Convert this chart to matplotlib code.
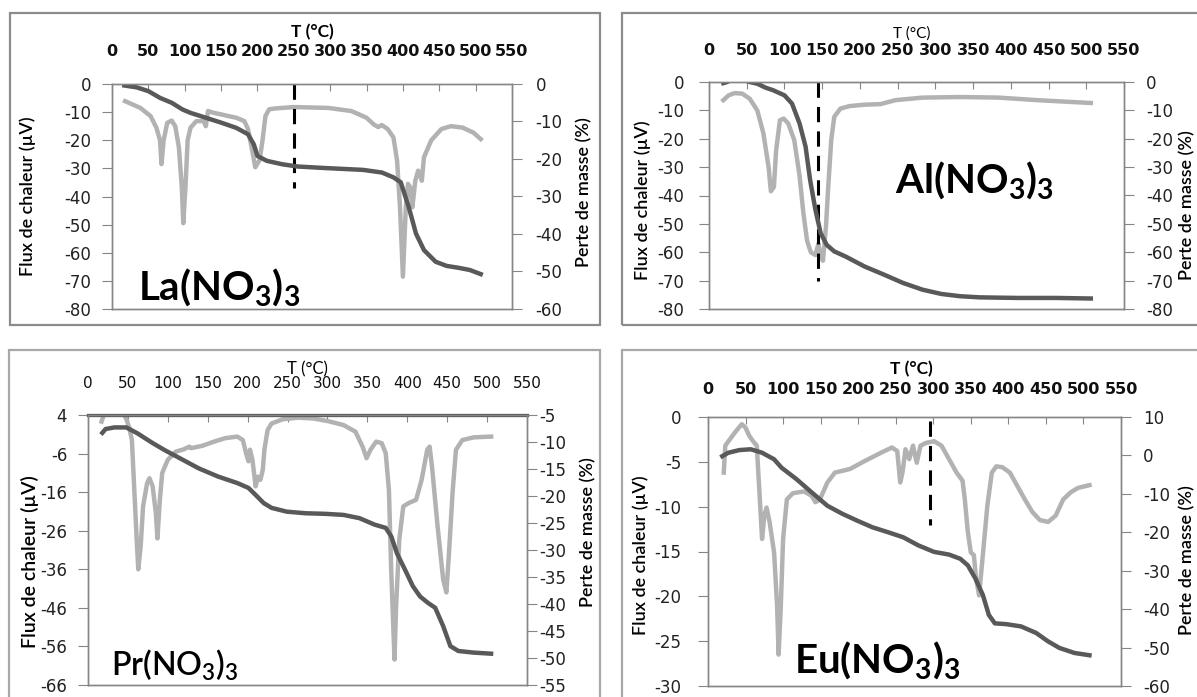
import matplotlib
matplotlib.use("Agg")
import matplotlib.pyplot as plt
import numpy as np
from matplotlib.patches import Rectangle


# ---- data (T in degC) ----
la_T_flux = [18, 39, 53, 61, 66, 68, 71, 76, 82, 87, 92, 96, 98, 101, 104, 108, 116, 126, 129, 132,
             139, 150, 160, 171, 182, 187, 192, 197, 203, 207, 211, 216, 224, 250, 297, 329, 350, 360,
             366, 371, 379, 387, 392, 396, 400, 404, 407, 410, 413, 417, 421, 426, 429, 439, 453, 466,
             482, 497, 507]
la_flux = [-6.1, -8.5, -11.4, -15.5, -20, -28.5, -20, -13.8, -13, -15, -22.6, -36.7, -49.5, -36.7, -20,
           -15.5, -13.2, -13.2, -15, -9.6, -10.2, -10.8, -11.4, -12, -13.2, -16, -22.6, -29.6, -27, -20,
           -11.4, -9, -8.7, -8.2, -8.5, -9.6, -12, -14.4, -15.3, -14.6, -16, -19, -27.3, -43.8, -68.5,
           -43.8, -35.5, -36.7, -43.8, -34.4, -30.8, -34.4, -26, -20, -16, -15, -15.5, -17.3, -19.6]
la_T_mass = [17, 34, 50, 66, 82, 97, 108, 129, 150, 171, 187, 195, 200, 213, 234, 255, 292, 345, 371,
             387, 397, 408, 418, 429, 445, 460, 476, 492, 507]
la_mass = [-0.4, -0.9, -1.9, -3.7, -5.0, -6.8, -7.7, -9.0, -10.3, -11.7, -13.4, -16.1, -19.2, -20.5,
           -21.4, -22.0, -22.4, -22.9, -23.6, -24.9, -26.2, -32.8, -39.9, -44.3, -47.4, -48.5, -49.0,
           -49.6, -50.7]
la_mark = [250, 0, -37]

al_T_flux = [19, 26, 34, 44, 54, 64, 72, 79, 82, 86, 89, 94, 99, 105, 113, 120, 125, 130, 135, 141,
             145, 147, 151, 155, 158, 162, 166, 174, 186, 206, 227, 247, 283, 333, 384, 435, 506]
al_flux = [-6.4, -4.7, -3.9, -4.1, -5.9, -10, -18, -30, -38.5, -37, -24, -13.5, -12.9, -14.6, -20.5,
           -33, -46, -56, -60, -61, -57, -60, -63, -51, -37, -20.5, -12.3, -9.4, -8.5, -8, -7.8, -6.4,
           -5.5, -5.3, -5.5, -6.4, -7.4]
al_T_mass = [19, 24, 30, 45, 54, 64, 75, 85, 100, 110, 120, 128, 134, 141, 148, 156, 166, 181, 206,
             232, 257, 283, 308, 333, 359, 409, 460, 506]
al_mass = [-0.4, 0, 0.8, 0.8, 0, -0.6, -2, -2.9, -4.7, -7.6, -14.6, -22.8, -34.5, -45, -53.3, -57.4,
           -59.7, -61.5, -65, -67.9, -70.8, -73.2, -74.7, -75.5, -75.9, -76.1, -76.1, -76.3]
al_mark = [145, 0, -70]

pr_T_flux = [17, 20, 24, 30, 38, 44, 48, 52, 55, 58, 61, 63, 66, 69, 74, 77, 81, 85, 87, 90, 93, 100,
             110, 120, 127, 129, 143, 158, 172, 187, 194, 198, 201, 203, 206, 208, 210, 213, 216, 219,
             221, 225, 230, 244, 263, 282, 301, 320, 335, 344, 349, 354, 361, 368, 373, 377, 380, 384,
             386, 390, 395, 402, 411, 418, 425, 428, 431, 438, 445, 449, 452, 457, 461, 469, 483, 505]
pr_flux = [2.3, 4.2, 5, 4.6, 5, 4.5, 3, 0.5, -2.5, -15.4, -28.3, -36, -30, -19.7, -13.7, -12.4, -14.5,
           -21.4, -28, -18, -11, -7.6, -5.5, -4.9, -4.2, -4.6, -4, -2.9, -2, -1.6, -2.5, -5.9, -8, -5,
           -7.6, -11, -14.5, -12, -12.8, -10.2, -5, 0.1, 1.8, 2.9, 3.3, 3.1, 2.4, 1.4, -0.3, -4.2, -7.2,
           -5, -2.9, -3.3, -5.9, -15.4, -37, -59.4, -45.6, -28.3, -19.7, -18.8, -18, -12.8, -5, -4.2,
           -9.4, -24.9, -38.7, -42, -32.6, -15.4, -5, -2.5, -1.8, -1.6]
pr_T_mass = [18, 22, 33, 48, 62, 81, 96, 115, 139, 163, 187, 201, 210, 220, 230, 249, 273, 297, 320,
             340, 359, 373, 380, 387, 397, 407, 416, 426, 435, 445, 454, 464, 483, 505]
pr_mass = [-8.3, -7.6, -7.3, -7.3, -8.4, -10.2, -11.5, -13, -14.9, -16.4, -17.6, -18.5, -19.8, -21.3,
           -22.2, -22.9, -23.2, -23.3, -23.5, -24.1, -25.3, -25.9, -27.5, -30.6, -33.6, -36.7, -38.6,
           -39.8, -40.7, -44.1, -47.8, -48.7, -49, -49.2]

eu_T_flux = [21, 23, 29, 37, 45, 50, 55, 60, 65, 67, 70, 72, 75, 78, 82, 88, 92, 94, 97, 100, 105,
             113, 128, 138, 143, 149, 159, 169, 189, 209, 230, 245, 252, 256, 259, 263, 268, 273, 278,
             283, 290, 301, 311, 321, 331, 339, 342, 346, 350, 354, 357, 361, 366, 372, 378, 384, 392,
             402, 412, 422, 432, 442, 453, 463, 473, 483, 493, 508]
eu_flux = [-6.2, -3.2, -2.5, -1.6, -0.8, -1.2, -2.1, -2.7, -3.2, -6.2, -10.6, -13.6, -11, -10.1, -11.7,
           -15.1, -21, -26.5, -21, -13.6, -9.2, -8.5, -8.3, -8.8, -9.5, -9.2, -7.3, -6.2, -5.8, -4.9, -4,
           -3.4, -3.8, -7.3, -6.2, -3.6, -4.7, -3.2, -5.1, -3.2, -2.9, -2.7, -3.2, -4.7, -6.2, -7.1,
           -9.2, -12.8, -15.1, -15.4, -18, -19.9, -15.4, -9.9, -6.2, -5.5, -5.6, -6.2, -7.7, -9.2,
           -10.6, -11.5, -11.7, -11, -9.2, -8.4, -7.9, -7.6]
eu_T_mass = [19, 27, 42, 57, 72, 88, 98, 118, 138, 159, 179, 199, 219, 240, 260, 280, 301, 321, 336,
             346, 356, 366, 374, 382, 397, 417, 437, 453, 468, 488, 508]
eu_mass = [-0.2, 0.7, 1.4, 1.6, 0.7, -1.0, -3.2, -6.2, -9.6, -13.1, -15.2, -17, -18.7, -20, -21.3,
           -23.4, -25.1, -25.8, -26.9, -28.6, -32, -36.3, -41.5, -43.7, -43.9, -44.5, -46.2, -48.4,
           -50.1, -51.4, -52]
eu_mark = [295, -0.5, -12]

t_ticks = list(range(0, 551, 50))
la_left_ticks = list(range(0, -81, -10))
la_right_ticks = list(range(0, -61, -10))
al_left_ticks = list(range(0, -81, -10))
al_right_ticks = list(range(0, -81, -10))
pr_left_ticks = list(range(4, -67, -10))
pr_right_ticks = list(range(-5, -56, -5))
eu_left_ticks = list(range(0, -31, -5))
eu_right_ticks = list(range(10, -61, -10))

W, H = 1197, 697
DARK = "#595959"
LIGHT = "#b2b2b2"
SPINE = "#868686"

plt.rcParams.update({
    "font.family": "DejaVu Sans",
    "axes.unicode_minus": False,
    "mathtext.fontset": "custom",
    "mathtext.rm": "Lato",
    "mathtext.bf": "Lato:bold",
    "mathtext.sf": "Lato:semibold",
})

fig = plt.figure(figsize=(W / 100, H / 100), dpi=100)


def rect(x0, y0, x1, y1):
    return [x0 / W, 1 - y1 / H, (x1 - x0) / W, (y1 - y0) / H]


def frame(x0, y0, x1, y1, color):
    fig.add_artist(Rectangle((x0 / W, 1 - y1 / H), (x1 - x0) / W, (y1 - y0) / H,
                             transform=fig.transFigure, fill=False, edgecolor=color, lw=1.6))


def ftext(x, y, s, **kw):
    fig.text(x / W, 1 - y / H, s, **kw)


def panel(box, T_flux, flux, T_mass, mass, lticks, rticks, pads, top_fs=11, top_bold=False,
          mark=None):
    ax = fig.add_axes(rect(*box))
    ax2 = ax.twinx()
    ax.plot(T_flux, flux, color=LIGHT, lw=3.2, solid_joinstyle="round")
    ax2.plot(T_mass, mass, color=DARK, lw=3.2, solid_joinstyle="round")
    if mark is not None:
        ax.plot([mark[0], mark[0]], mark[1:], color="black", lw=2.2, ls=(0, (5, 3)))
    ax.set_xlim(0, 550)
    ax.set_ylim(lticks[-1], lticks[0])
    ax2.set_ylim(rticks[-1], rticks[0])
    ax.set_xticks(t_ticks)
    ax.set_yticks(lticks)
    ax2.set_yticks(rticks)
    ax.xaxis.tick_top()
    ax.tick_params(axis="x", direction="in", length=5, color=SPINE, pad=pads[0],
                   labelsize=top_fs, labelcolor="#111111")
    if top_bold:
        for lab in ax.get_xticklabels():
            lab.set_fontweight("bold")
    ax.tick_params(axis="y", direction="out", length=7, color=SPINE, pad=pads[1],
                   labelsize=12, labelcolor="#222222")
    ax2.tick_params(axis="y", direction="out", length=7, color=SPINE, pad=pads[2],
                    labelsize=12, labelcolor="#222222")
    for a in (ax, ax2):
        for sp in a.spines.values():
            sp.set_color(SPINE)
            sp.set_linewidth(1.0)
    return ax, ax2


# frames round each chart
frame(10, 13, 600, 325, "#8c8c8c")
frame(622, 13, 1210, 325, "#8c8c8c")
frame(9, 350, 600, 710, "#a8a8a8")
frame(622, 350, 1210, 710, "#a8a8a8")

# La
panel((112, 84, 512, 309), la_T_flux, la_flux, la_T_mass, la_mass,
      la_left_ticks, la_right_ticks, pads=(18, 8, 10), top_fs=11.5, top_bold=True, mark=la_mark)
ftext(312, 32, "T (°C)", ha="center", va="center", fontsize=12.5, fontweight="bold", family="Lato")
ftext(28, 196, "Flux de chaleur (µV)", rotation=90, ha="center", va="center",
      fontsize=13, family="Lato", fontweight="semibold")
ftext(584, 192, "Perte de masse (%)", rotation=90, ha="center", va="center",
      fontsize=13, family="Lato", fontweight="semibold")
ftext(138, 300, r"$\mathbf{La(NO_3)_3}$", ha="left", va="baseline", fontsize=29)

# Al
panel((709, 82, 1124, 309), al_T_flux, al_flux, al_T_mass, al_mass,
      al_left_ticks, al_right_ticks, pads=(17, 11, 9), top_fs=11.5, top_bold=True, mark=al_mark)
ftext(912, 34, "T (°C)", ha="center", va="center", fontsize=11, family="Lato")
ftext(643, 200, "Flux de chaleur (µV)", rotation=90, ha="center", va="center",
      fontsize=13, family="Lato", fontweight="semibold")
ftext(1187, 205, "Perte de masse (%)", rotation=90, ha="center", va="center",
      fontsize=13, family="Lato", fontweight="semibold")
ftext(895, 193, r"$\mathbf{Al(NO_3)_3}$", ha="left", va="baseline", fontsize=29)

# Pr
ax_pr, _ = panel((88, 415, 527, 685), pr_T_flux, pr_flux, pr_T_mass, pr_mass,
                 pr_left_ticks, pr_right_ticks, pads=(17, 8, 2), top_fs=11)
ax_pr.spines["top"].set_color(DARK)
ax_pr.spines["top"].set_linewidth(2.4)
ftext(307, 369, "T (°C)", ha="center", va="center", fontsize=12, family="Lato")
ftext(30, 562, "Flux de chaleur (µV)", rotation=90, ha="center", va="center",
      fontsize=14, family="Lato", fontweight="semibold")
ftext(588, 532, "Perte de masse (%)", rotation=90, ha="center", va="center",
      fontsize=13, family="Lato", fontweight="semibold")
ftext(111, 675, r"$\mathsf{Pr(NO_3)_3}$", ha="left", va="baseline", fontsize=23)

# Eu
panel((708, 417, 1121, 686), eu_T_flux, eu_flux, eu_T_mass, eu_mass,
      eu_left_ticks, eu_right_ticks, pads=(14.5, 12, 9), top_fs=11.5, top_bold=True, mark=eu_mark)
ftext(911, 369, "T (°C)", ha="center", va="center", fontsize=12.5, fontweight="bold", family="Lato")
ftext(641, 555, "Flux de chaleur (µV)", rotation=90, ha="center", va="center",
      fontsize=13, family="Lato", fontweight="semibold")
ftext(1187, 560, "Perte de masse (%)", rotation=90, ha="center", va="center",
      fontsize=13, family="Lato", fontweight="semibold")
ftext(794, 673, r"$\mathbf{Eu(NO_3)_3}$", ha="left", va="baseline", fontsize=29)

fig.savefig("out.png", dpi=100)
